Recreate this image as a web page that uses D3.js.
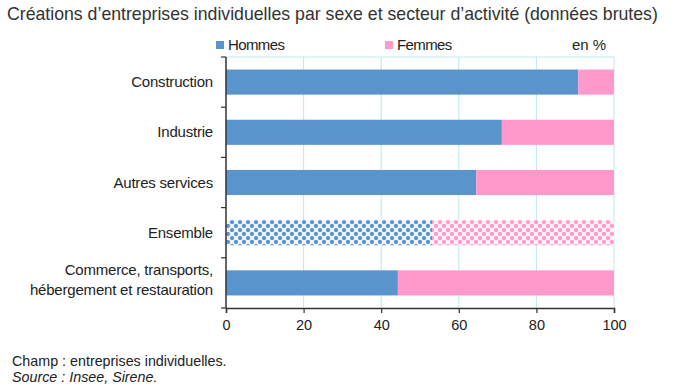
<!DOCTYPE html>
<html>
<head>
<meta charset="utf-8">
<script src="https://cdn.jsdelivr.net/npm/d3@7/dist/d3.min.js"></script>
<style>
	body { margin: 0; background: #fff; }
	svg { display: block; font-family: "Liberation Sans", Arial, sans-serif; }
</style>
</head>
<body>
<script>
// DATA
const categories = ["Construction", "Industrie", "Autres services", "Ensemble", "Commerce, transports,\nhébergement et restauration"];
const hommes = [90.8, 71.1, 64.5, 53.1, 44.3];
const femmes = hommes.map(v => 100 - v);
const xTicks = [0, 20, 40, 60, 80, 100];

// dimension
const w = 696, h = 385;
const mLeft = 226, mRight = 614, mTop = 57, mBottom = 308;
const blue = "#5a94cc", pink = "#ff99cc", ink = "#222";

const svg = d3.select("body").append("svg").attr("width", w).attr("height", h);

// patterns for "Ensemble"
const defs = svg.append("defs");
function dotPattern(id, bg, dot) {
	const p = defs.append("pattern").attr("id", id).attr("patternUnits", "userSpaceOnUse")
		.attr("width", 8).attr("height", 8).attr("x", mLeft);
	p.append("rect").attr("width", 8).attr("height", 8).attr("fill", bg);
	[[2, 2], [6, 6], [-2, 6], [6, -2]].forEach(([cx, cy]) => {
		p.append("circle").attr("cx", cx).attr("cy", cy).attr("r", 2.1).attr("fill", dot);
	});
}
dotPattern("dotBlue", "#eef4fb", blue);
dotPattern("dotPink", "#fff0f7", pink);

// scales
const xScale = d3.scaleLinear().domain([0, 100]).range([mLeft, mRight]);
const yScale = d3.scaleBand().domain(categories).range([mTop, mBottom]).paddingInner(0.5).paddingOuter(0.25);

// title
svg.append("text").attr("x", 7).attr("y", 19.5).attr("font-size", 17.7).attr("fill", "#333")
	.text("Créations d’entreprises individuelles par sexe et secteur d’activité (données brutes)");

// legend
const legend = [["Hommes", blue, 216], ["Femmes", pink, 385]];
legend.forEach(([name, col, x]) => {
	svg.append("rect").attr("x", x).attr("y", 41).attr("width", 8).attr("height", 8).attr("fill", col);
	svg.append("text").attr("x", x + 12).attr("y", 50).attr("font-size", 15).attr("fill", ink)
		.attr("letter-spacing", -0.6).text(name);
});
svg.append("text").attr("x", 572).attr("y", 50).attr("font-size", 15).attr("fill", ink).text("en %");

// gridlines
svg.append("g").selectAll("line").data(xTicks.slice(1)).enter().append("line")
	.attr("x1", d => xScale(d)).attr("x2", d => xScale(d)).attr("y1", mTop).attr("y2", mBottom)
	.attr("stroke", "#bfe7f3").attr("stroke-width", 1);
svg.append("line").attr("x1", mLeft).attr("x2", mRight).attr("y1", mTop).attr("y2", mTop)
	.attr("stroke", "#bfe7f3");

// bars
const isEns = d => d === "Ensemble";
svg.append("g").selectAll("rect").data(categories).enter().append("rect")
	.attr("x", xScale(0)).attr("y", d => yScale(d)).attr("height", yScale.bandwidth())
	.attr("width", (d, i) => xScale(hommes[i]) - xScale(0))
	.attr("fill", d => isEns(d) ? "url(#dotBlue)" : blue);
svg.append("g").selectAll("rect").data(categories).enter().append("rect")
	.attr("x", (d, i) => xScale(hommes[i])).attr("y", d => yScale(d)).attr("height", yScale.bandwidth())
	.attr("width", (d, i) => xScale(hommes[i] + femmes[i]) - xScale(hommes[i]))
	.attr("fill", d => isEns(d) ? "url(#dotPink)" : pink);

// x axis
const xAxis = d3.axisBottom(xScale).tickValues(xTicks).tickSize(5).tickPadding(7);
const gx = svg.append("g").attr("transform", "translate(0," + mBottom + ")").call(xAxis);
gx.select(".domain").attr("stroke", "#333").attr("stroke-width", 1.5);
gx.selectAll(".tick line").attr("stroke", "#333").attr("stroke-width", 1.2);
gx.selectAll(".tick text").attr("font-size", 14.5).attr("fill", ink).attr("font-family", "Liberation Sans, Arial, sans-serif");

// y axis line with ticks at band boundaries
svg.append("line").attr("x1", mLeft).attr("x2", mLeft).attr("y1", mTop).attr("y2", mBottom)
	.attr("stroke", "#333").attr("stroke-width", 1.5);
const step = (mBottom - mTop) / categories.length;
svg.append("g").selectAll("line").data(d3.range(categories.length + 1)).enter().append("line")
	.attr("x1", mLeft - 5).attr("x2", mLeft).attr("y1", i => mTop + i * step).attr("y2", i => mTop + i * step)
	.attr("stroke", "#333").attr("stroke-width", 1.2);

// category labels
categories.forEach(c => {
	const lines = c.split("\n");
	const cy = yScale(c) + yScale.bandwidth() / 2;
	lines.forEach((l, j) => {
		const y = lines.length === 1 ? cy + 5 : cy - 7.5 + j * 20;
		svg.append("text").attr("x", 213).attr("text-anchor", "end").attr("font-size", 15).attr("fill", ink)
			.attr("letter-spacing", -0.2).attr("y", y).text(l);
	});
});

// notes
svg.append("text").attr("x", 12).attr("y", 366).attr("font-size", 14.3).attr("fill", ink)
	.text("Champ : entreprises individuelles.");
svg.append("text").attr("x", 12).attr("y", 382).attr("font-size", 14.3).attr("fill", ink)
	.attr("font-style", "italic").text("Source : Insee, Sirene.");
</script>
</body>
</html>
